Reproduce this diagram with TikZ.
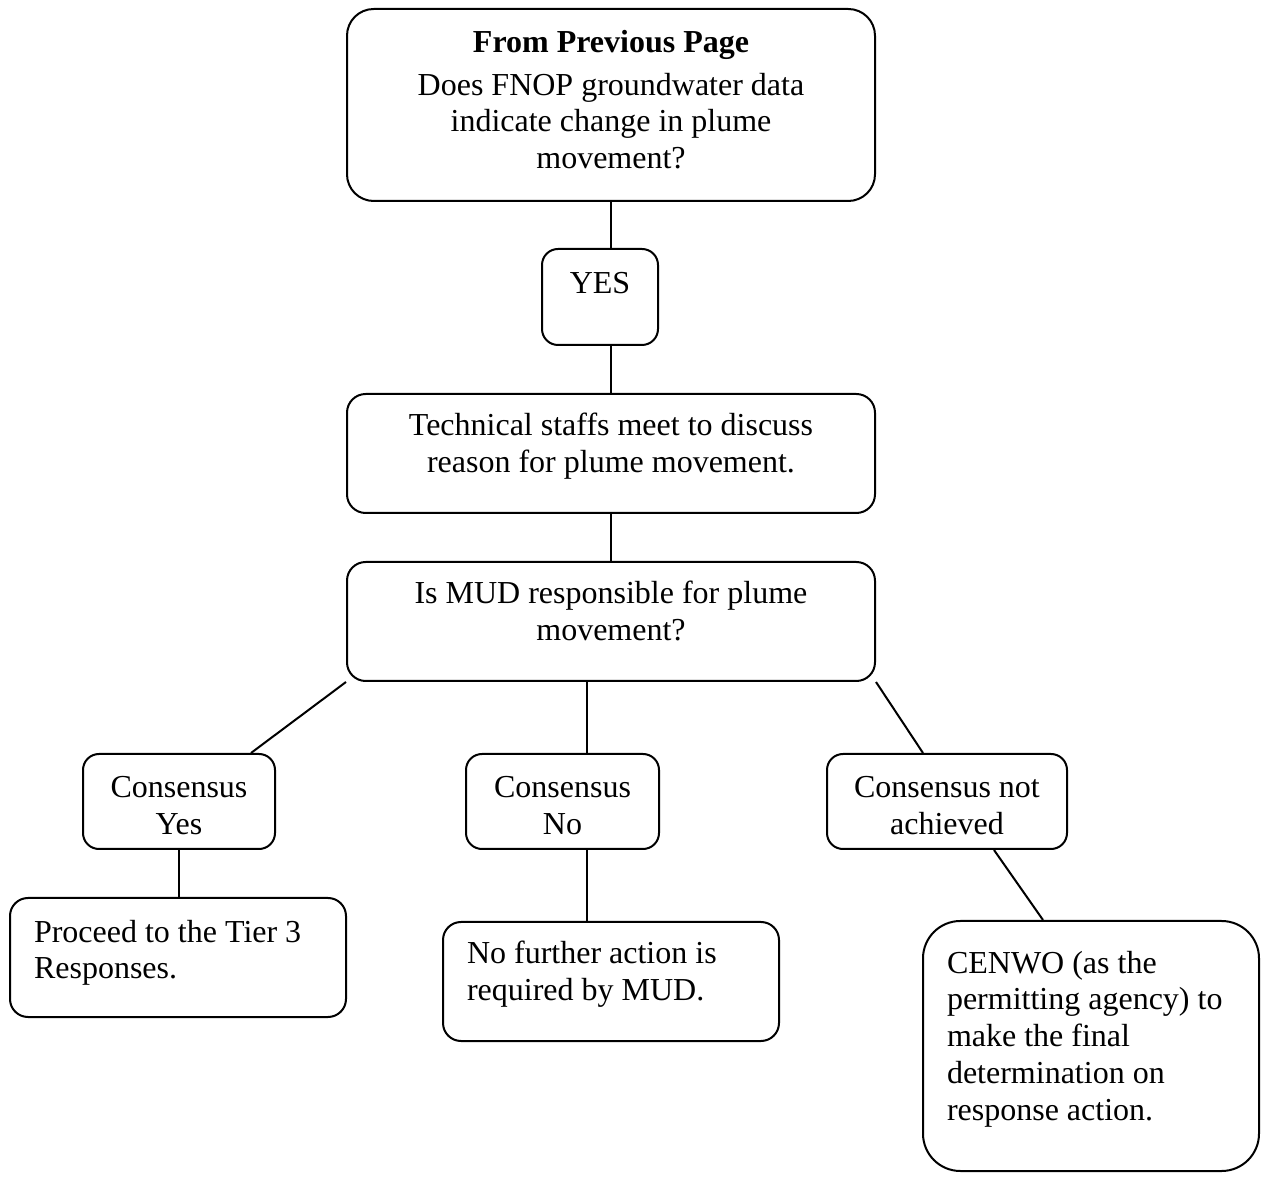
\documentclass[tikz,border=0pt]{standalone}
\usepackage{fontspec}
\setmainfont{Liberation Serif}
\usetikzlibrary{calc}

\tikzset{
	flowbox/.style={draw, line width=0.75pt, anchor=north west, inner xsep=9pt, inner ysep=0pt,
		font=\fontsize{12}{13.8}\selectfont},
	midbox/.style={flowbox, align=flush center},
	leftbox/.style={flowbox, align=flush left},
	link/.style={line width=0.75pt}
}

\begin{document}
\begin{tikzpicture}[x=0.375pt, y=-0.375pt]
			%%%%% START %%%%%
			\useasboundingbox (0, 0) rectangle (1264, 1182);
			
			\node[midbox, rounded corners=10pt, text width=180pt, text height=16.5pt, text depth=55.5pt] (top) at (346, 8)
				{\textbf{From Previous Page}\\[2pt] Does FNOP groundwater data\\ indicate change in plume\\ movement?};
			\node[midbox, rounded corners=6pt, text width=25.5pt, text height=16.875pt, text depth=19.125pt] (yes) at (541, 248) {YES};
			\node[midbox, rounded corners=7pt, text width=180pt, text height=15.75pt, text depth=28.875pt] (tech) at (346, 393)
				{Technical staffs meet to discuss\\ reason for plume movement.};
			\node[midbox, rounded corners=7pt, text width=180pt, text height=15.75pt, text depth=28.875pt] (mud) at (346, 561)
				{Is MUD responsible for plume\\ movement?};
			
			\node[midbox, rounded corners=6pt, text width=54pt, text height=16.5pt, text depth=19.125pt] (cyes) at (82, 753) {Consensus\\ Yes};
			\node[midbox, rounded corners=6pt, text width=54.375pt, text height=16.5pt, text depth=19.125pt] (cno) at (465, 753) {Consensus\\ No};
			\node[midbox, rounded corners=6pt, text width=72pt, text height=16.5pt, text depth=19.125pt] (cna) at (826, 753) {Consensus not\\ achieved};
			
			\node[leftbox, rounded corners=6.75pt, text width=108pt, text height=16.5pt, text depth=28.125pt] (proceed) at (9, 897)
				{Proceed to the Tier 3\\ Responses.};
			\node[leftbox, rounded corners=6.75pt, text width=108pt, text height=15.75pt, text depth=28.875pt] (nofurther) at (442, 921)
				{No further action is\\ required by MUD.};
			\node[leftbox, rounded corners=14pt, text width=108pt, text height=19.5pt, text depth=74.25pt] (cenwo) at (922, 920)
				{CENWO (as the\\ permitting agency) to\\ make the final\\ determination on\\ response action.};
			
			\draw[link] (top.south) -- (top.south |- yes.north);
			\draw[link] (yes.south -| top.south) -- (tech.north);
			\draw[link] (tech.south) -- (mud.north);
			
			\draw[link] (mud.south west) -- ($(cyes.north)+(72, 0)$);
			\draw[link] ($(mud.south)+(-24, 0)$) -- ($(cno.north)+(24.5, 0)$);
			\draw[link] (mud.south east) -- ($(cna.north)+(-24, 0)$);
			
			\draw[link] (cyes.south) -- (cyes.south |- proceed.north);
			\draw[link] ($(cno.south)+(24.5, 0)$) -- ($(nofurther.north)+(-24, 0)$);
			\draw[link] ($(cna.south)+(47, 0)$) -- ($(cenwo.north)+(-48, 0)$);
			
			%%%%% END %%%%%
		\end{tikzpicture}
\end{document}
